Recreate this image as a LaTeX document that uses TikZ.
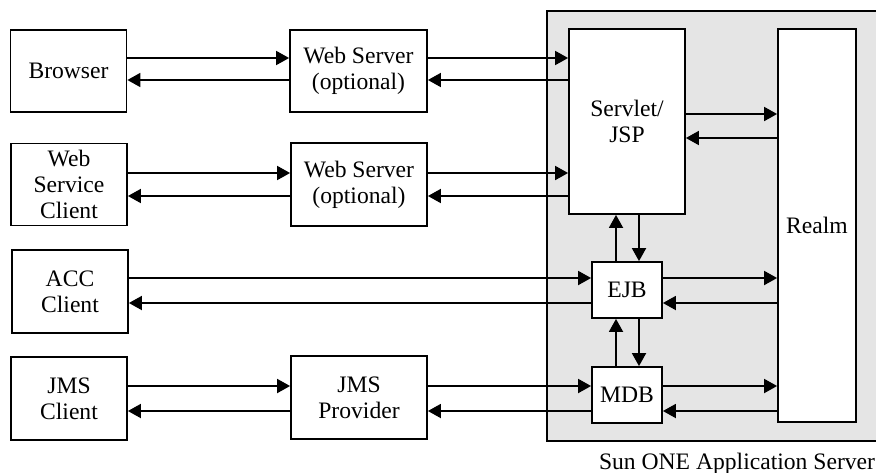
\documentclass[tikz,border=0pt]{standalone}
\usepackage{fontspec}
\setmainfont{Liberation Serif}
\usetikzlibrary{arrows.meta}
\begin{document}
\begin{tikzpicture}[x=0.5pt,y=-0.5pt,
  every node/.style={font=\fontsize{11.8}{13}\selectfont, align=center, inner sep=0pt},
  box/.style={draw, line width=0.9pt, fill=white, minimum width=#1},
  box/.default=58pt,
  arr/.style={line width=0.9pt, -{Triangle[length=6.5pt,width=7pt]}}]
\useasboundingbox (0,0) rectangle (876,472);
% container
\node[draw, line width=0.9pt, fill=gray!20, minimum width=167pt, minimum height=215pt, anchor=north west] (server) at (546,10) {};
\node[anchor=base] (label) at (737,469) {Sun ONE Application Server};
% left column
\node[box, minimum height=41pt] (browser) at (68.5,71) {Browser};
\node[box, minimum height=41pt] (wsc) at (69,184.5) {Web\\Service\\Client};
\node[box, minimum height=41.5pt] (acc) at (70,291.5) {ACC\\Client};
\node[box, minimum height=41.5pt] (jmsc) at (69,398.5) {JMS\\Client};
% middle column
\node[box=68.5pt, minimum height=41pt] (ws1) at (358.5,71) {Web Server\\(optional)};
\node[box=68pt, minimum height=41.5pt] (ws2) at (359,184.5) {Web Server\\(optional)};
\node[box=68pt, minimum height=41.5pt] (jmsp) at (359,397.5) {JMS\\Provider};
% server components
\node[box=58pt, minimum height=92.5pt] (servlet) at (627,121.5) {Servlet/\\JSP};
\node[box=39pt, minimum height=196.5pt] (realm) at (817,225.5) {Realm};
\node[box=35pt, minimum height=28pt] (ejb) at (627,290) {EJB};
\node[box=35pt, minimum height=28pt] (mdb) at (627,395) {MDB};
% row coordinates
\coordinate (r1a) at (0,58);  \coordinate (r1b) at (0,80);
\coordinate (r2a) at (0,173); \coordinate (r2b) at (0,196);
\coordinate (r3a) at (0,278); \coordinate (r3b) at (0,303);
\coordinate (r4a) at (0,386); \coordinate (r4b) at (0,411);
\coordinate (rsa) at (0,114); \coordinate (rsb) at (0,138);
\coordinate (cup) at (616,0); \coordinate (cdn) at (639,0);
% row 1
\draw[arr] (browser.east |- r1a) -- (ws1.west |- r1a);
\draw[arr] (ws1.west |- r1b) -- (browser.east |- r1b);
\draw[arr] (ws1.east |- r1a) -- (servlet.west |- r1a);
\draw[arr] (servlet.west |- r1b) -- (ws1.east |- r1b);
% row 2
\draw[arr] (wsc.east |- r2a) -- (ws2.west |- r2a);
\draw[arr] (ws2.west |- r2b) -- (wsc.east |- r2b);
\draw[arr] (ws2.east |- r2a) -- (servlet.west |- r2a);
\draw[arr] (servlet.west |- r2b) -- (ws2.east |- r2b);
% row 3
\draw[arr] (acc.east |- r3a) -- (ejb.west |- r3a);
\draw[arr] (ejb.west |- r3b) -- (acc.east |- r3b);
% row 4
\draw[arr] (jmsc.east |- r4a) -- (jmsp.west |- r4a);
\draw[arr] (jmsp.west |- r4b) -- (jmsc.east |- r4b);
\draw[arr] (jmsp.east |- r4a) -- (mdb.west |- r4a);
\draw[arr] (mdb.west |- r4b) -- (jmsp.east |- r4b);
% to realm
\draw[arr] (servlet.east |- rsa) -- (realm.west |- rsa);
\draw[arr] (realm.west |- rsb) -- (servlet.east |- rsb);
\draw[arr] (ejb.east |- r3a) -- (realm.west |- r3a);
\draw[arr] (realm.west |- r3b) -- (ejb.east |- r3b);
\draw[arr] (mdb.east |- r4a) -- (realm.west |- r4a);
\draw[arr] (realm.west |- r4b) -- (mdb.east |- r4b);
% vertical
\draw[arr] (ejb.north -| cup) -- (servlet.south -| cup);
\draw[arr] (servlet.south -| cdn) -- (ejb.north -| cdn);
\draw[arr] (mdb.north -| cup) -- (ejb.south -| cup);
\draw[arr] (ejb.south -| cdn) -- (mdb.north -| cdn);
\end{tikzpicture}
\end{document}
